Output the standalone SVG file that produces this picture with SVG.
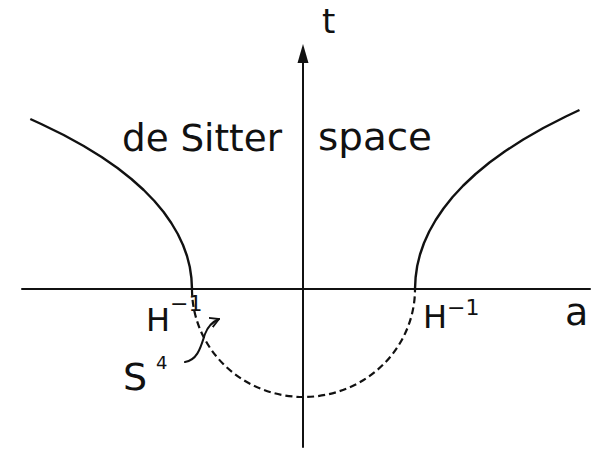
<svg xmlns="http://www.w3.org/2000/svg" width="600" height="449" viewBox="0 0 600 449">
<style>
.ln{fill:none;stroke:#111;stroke-width:2;stroke-linecap:round;stroke-linejoin:round}
.cv{fill:none;stroke:#111;stroke-width:2.4;stroke-linejoin:round}
.ds{fill:none;stroke:#111;stroke-width:2.2;stroke-dasharray:7 4}
.tx{font-family:"DejaVu Sans","Liberation Sans",sans-serif;fill:#111}
</style>
<defs>
<marker id="ah" markerWidth="10" markerHeight="20" refX="9" refY="10" orient="auto" markerUnits="userSpaceOnUse" viewBox="0 0 10 20">
<path d="M0,5 L9,10 L0,15" fill="none" stroke="#111" stroke-width="1.8"/>
</marker>
</defs>
<rect width="600" height="449" fill="#fff"/>
<g id="axes">
<line class="ln" x1="22" y1="289" x2="590" y2="289"/>
<line class="ln" x1="303" y1="447" x2="303" y2="58"/>
<polygon points="303,44 297.5,63 308.5,63" fill="#111"/>
</g>
<g id="hyperbola-left">
<polyline class="cv" points="192,289 191.4,278 189.8,267 187,256 183,245 177.8,234 171.3,223 163.6,212 154.4,201 143.7,190 131.4,179 117.5,168 101.6,157 83.7,146 63.7,135 41.2,124 30.3,119"/>
</g>
<g id="hyperbola-right">
<polyline class="cv" points="415,289 415.6,277.5 417.2,266 420,254.5 424,243 429.2,231.5 435.7,220 443.5,208.5 452.6,197 463.3,185.5 475.6,174 489.5,162.5 505.4,151 523.3,139.5 543.3,128 565.8,116.5 579.5,110"/>
</g>
<g id="sphere">
<path class="ds" d="M192,289 A111.5,108 0 0 0 415,289"/>
</g>
<g id="connectors">
<path class="ln" stroke-width="1.6" d="M185,362 C198,360 201,346 205,334 C208,326 212,322 219,319" marker-end="url(#ah)"/>
</g>
<g id="labels">
<text class="tx" x="322" y="33" font-size="34">t</text>
<text class="tx" x="122" y="151" font-size="37" textLength="160" lengthAdjust="spacingAndGlyphs">de Sitter</text>
<text class="tx" x="318" y="150" font-size="37" textLength="114" lengthAdjust="spacingAndGlyphs">space</text>
<text class="tx" x="146" y="331" font-size="32">H<tspan font-size="22" dy="-20">−1</tspan></text>
<text class="tx" x="423" y="328" font-size="32">H<tspan font-size="22" dy="-13">−1</tspan></text>
<text class="tx" x="565" y="325" font-size="38">a</text>
<text class="tx" x="123" y="390" font-size="38">S</text>
<text class="tx" x="156" y="369" font-size="18">4</text>
</g>
</svg>
